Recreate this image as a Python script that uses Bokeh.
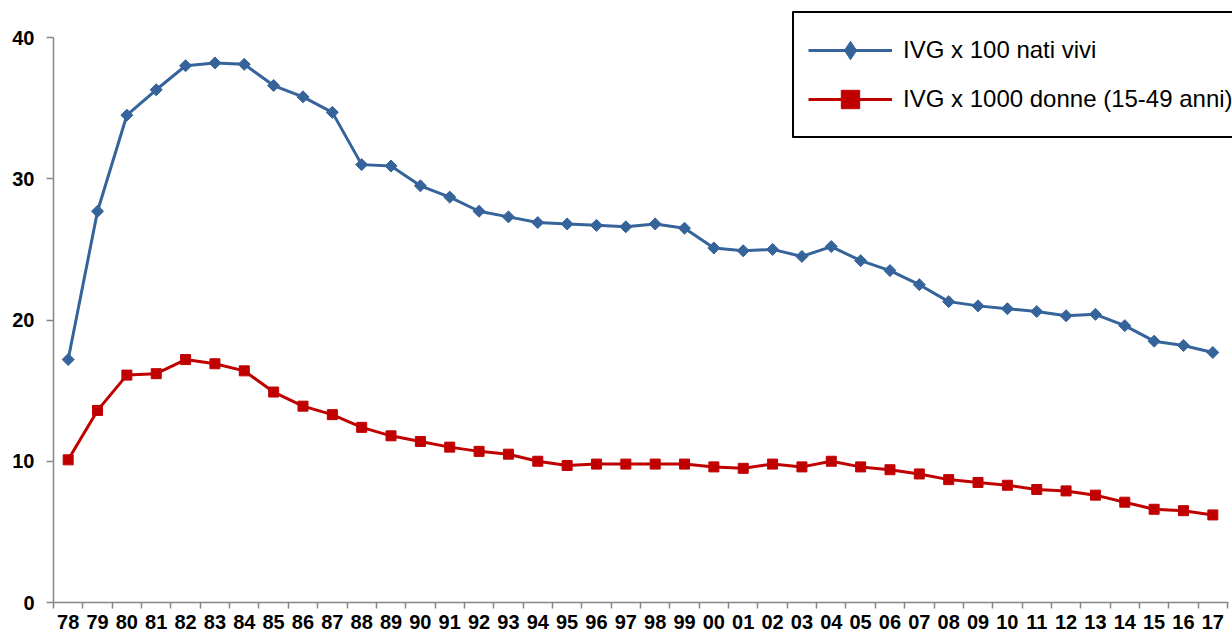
import numpy as np
from bokeh.plotting import figure
from bokeh.models import Range1d, FixedTicker, Legend, LegendItem
from bokeh.embed import file_html
from bokeh.resources import INLINE

years = ["78", "79", "80", "81", "82", "83", "84", "85", "86", "87",
         "88", "89", "90", "91", "92", "93", "94", "95", "96", "97",
         "98", "99", "00", "01", "02", "03", "04", "05", "06", "07",
         "08", "09", "10", "11", "12", "13", "14", "15", "16", "17"]

ivg_nati = [17.2, 27.7, 34.5, 36.3, 38.0, 38.2, 38.1, 36.6, 35.8, 34.7,
            31.0, 30.9, 29.5, 28.7, 27.7, 27.3, 26.9, 26.8, 26.7, 26.6,
            26.8, 26.5, 25.1, 24.9, 25.0, 24.5, 25.2, 24.2, 23.5, 22.5,
            21.3, 21.0, 20.8, 20.6, 20.3, 20.4, 19.6, 18.5, 18.2, 17.7]

ivg_donne = [10.1, 13.6, 16.1, 16.2, 17.2, 16.9, 16.4, 14.9, 13.9, 13.3,
             12.4, 11.8, 11.4, 11.0, 10.7, 10.5, 10.0, 9.7, 9.8, 9.8,
             9.8, 9.8, 9.6, 9.5, 9.8, 9.6, 10.0, 9.6, 9.4, 9.1,
             8.7, 8.5, 8.3, 8.0, 7.9, 7.6, 7.1, 6.6, 6.5, 6.2]

y_ticks = [0, 10, 20, 30, 40]

labels_legend = ["IVG x 100 nati vivi", "IVG x 1000 donne (15-49 anni)"]

n = len(years)
xs = [i + 0.5 for i in range(n)]

BLUE = "#35639A"
RED = "#C00000"
AXIS = "#868686"
FONT = "Liberation Sans"

W, H = 1232, 633
TOP, BOTTOM, LEFT, RIGHT = 11, 31, 53, 0
frame_h = H - TOP - BOTTOM
frame_w = W - LEFT - RIGHT
# value 40 sits 26 px below the frame top; last category edge 5 px before the right edge
y_top = 40 * frame_h / (frame_h - 26)
x_end = n * frame_w / (frame_w - 5)

p = figure(width=W, height=H, output_backend="svg", toolbar_location=None,
           x_range=Range1d(0, x_end), y_range=Range1d(0, y_top),
           min_border_left=LEFT, min_border_right=RIGHT, min_border_top=TOP,
           min_border_bottom=BOTTOM)
p.outline_line_color = None
p.grid.visible = False
p.background_fill_color = "white"
p.border_fill_color = "white"

l1 = p.line(xs, ivg_nati, line_color=BLUE, line_width=3)
# small diamonds (covered by the rotated squares) give the legend its diamond
d1 = p.scatter(xs, ivg_nati, marker="diamond", size=7,
               fill_color=BLUE, line_color=BLUE)
m1 = p.scatter(xs, ivg_nati, marker="square", angle=np.pi / 4, size=8.5,
               fill_color=BLUE, line_color=BLUE)
l2 = p.line(xs, ivg_donne, line_color=RED, line_width=3)
m2 = p.scatter(xs, ivg_donne, marker="square", size=10,
               fill_color=RED, line_color=RED)

# x axis: labels at centers, ticks at category boundaries
xa = p.xaxis[0]
xa.ticker = FixedTicker(ticks=xs, minor_ticks=list(range(n + 1)))
xa.major_label_overrides = {x: lab for x, lab in zip(xs, years)}
xa.bounds = (0, n + 0.05)
xa.major_tick_out = 0
xa.major_tick_in = 0
xa.minor_tick_out = 6
xa.minor_tick_in = 0
xa.minor_tick_line_color = AXIS
xa.axis_line_color = AXIS
xa.axis_line_width = 1.5
xa.minor_tick_line_width = 1.5
xa.major_label_text_font = FONT
xa.major_label_text_font_style = "bold"
xa.major_label_text_font_size = "20px"
xa.major_label_text_color = "black"
xa.major_label_standoff = 6

ya = p.yaxis[0]
ya.ticker = FixedTicker(ticks=y_ticks, minor_ticks=[])
ya.bounds = (0, 40)
ya.major_tick_out = 7
ya.major_tick_in = 0
ya.major_tick_line_color = AXIS
ya.major_tick_line_width = 1.5
ya.axis_line_color = AXIS
ya.axis_line_width = 1.5
ya.minor_tick_line_color = None
ya.major_label_text_font = FONT
ya.major_label_text_font_style = "bold"
ya.major_label_text_font_size = "20px"
ya.major_label_text_color = "black"
ya.major_label_standoff = 12

GH, SP, PAD = 46, 3, 14
leg_h = 2 * GH + SP + 2 * PAD
leg_top_gap = 4
legend = Legend(items=[LegendItem(label=labels_legend[0], renderers=[l1, d1]),
                       LegendItem(label=labels_legend[1], renderers=[l2, m2])],
                location=(792 - LEFT, frame_h - leg_h - leg_top_gap),
                orientation="vertical",
                glyph_width=84, glyph_height=GH, label_height=GH,
                label_width=360,
                spacing=SP, padding=PAD, margin=0, label_standoff=11,
                label_text_font=FONT, label_text_font_size="24px",
                label_text_color="black",
                border_line_color="black", border_line_width=2,
                border_line_alpha=1.0,
                background_fill_color="white", background_fill_alpha=1)
if "border_radius" in Legend.properties():
    legend.border_radius = 1
p.add_layout(legend, "center")

open("out.html", "w").write(file_html(p, INLINE))
